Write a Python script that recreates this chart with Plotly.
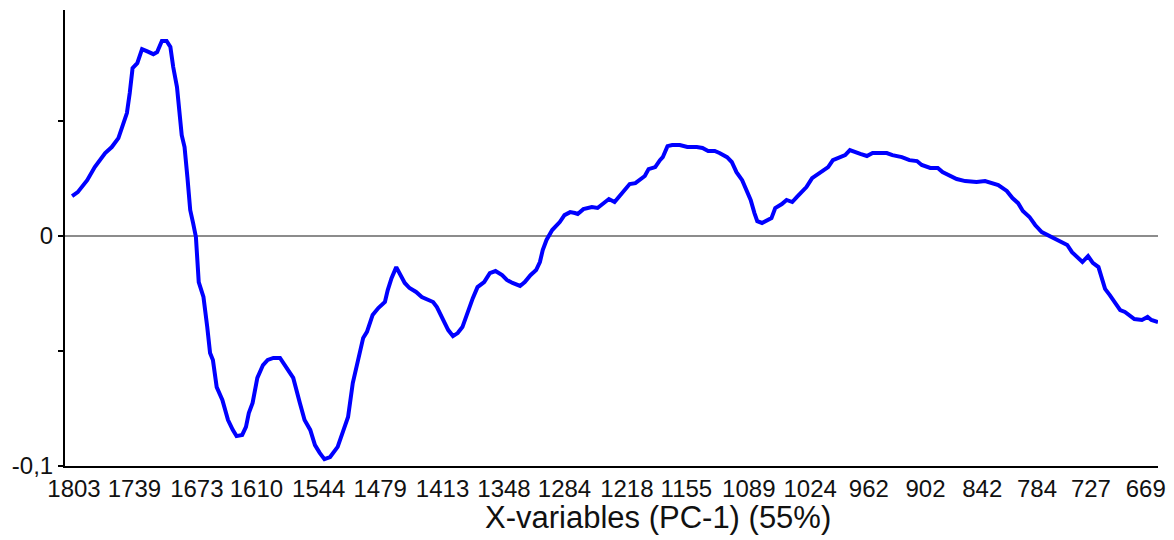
import plotly.graph_objects as go

# PC-1 loadings, wavenumber (cm-1) vs loading
wavenumber = [
    1805, 1799, 1789, 1781, 1770, 1763, 1756, 1752, 1747, 1744, 1741, 1736, 1731, 1726,
    1719, 1715, 1710, 1705, 1701, 1698, 1694, 1689, 1686, 1683, 1680, 1677, 1674,
    1671, 1666, 1662, 1659, 1656, 1652, 1646, 1640, 1635, 1631, 1625, 1621, 1618,
    1614, 1609, 1603, 1598, 1592, 1585, 1580, 1576, 1571, 1564,
    1559, 1553, 1548, 1543, 1538, 1532, 1524, 1516, 1513, 1508, 1503, 1497, 1493,
    1487, 1481, 1474, 1471, 1467, 1462, 1458, 1453, 1448, 1441, 1435, 1430, 1423,
    1419, 1413, 1407, 1402, 1397, 1392, 1386, 1381, 1376, 1369, 1363, 1357, 1350,
    1345, 1339, 1331, 1326, 1320, 1314, 1310, 1307, 1303, 1297,
    1289, 1284, 1278, 1273, 1270, 1264, 1259, 1255, 1249, 1243, 1237, 1231, 1222,
    1215, 1209, 1199, 1195, 1188, 1183, 1180, 1175, 1170, 1162, 1154, 1144, 1138,
    1132, 1125, 1120, 1112, 1107, 1102, 1096, 1091, 1087, 1083, 1080, 1075, 1070,
    1065, 1061, 1054, 1049, 1043, 1038, 1033, 1028, 1022, 1017, 1011, 1005, 1000,
    995, 987, 982, 977, 971,
    964, 958, 943, 937, 927, 919, 911, 906, 897, 889, 884, 876, 869, 860, 848, 839,
    832, 825, 816, 810, 804, 799, 792, 786, 779, 773, 763, 752, 747, 741, 736, 730,
    725, 719, 715, 712, 707, 702, 696, 691, 686, 681, 673, 667, 663, 656,
]
loading = [
    0.0174, 0.0191, 0.0243, 0.0300, 0.0361, 0.0387, 0.0426, 0.0470, 0.0535, 0.0622,
    0.0730, 0.0752, 0.0813, 0.0804, 0.0791, 0.0800, 0.0848, 0.0848, 0.0822, 0.0735,
    0.0648, 0.0439, 0.0387, 0.0257, 0.0113, 0.0057, -0.0004,
    -0.0200, -0.0265, -0.0396, -0.0509, -0.0539, -0.0657, -0.0713, -0.0800, -0.0843,
    -0.0870, -0.0865, -0.0830, -0.0770, -0.0726, -0.0617, -0.0561, -0.0539, -0.0530,
    -0.0530, -0.0561, -0.0591, -0.0617, -0.0726,
    -0.0800, -0.0843, -0.0909, -0.0943, -0.0970, -0.0961, -0.0917, -0.0822, -0.0787,
    -0.0639, -0.0552, -0.0443, -0.0417, -0.0343, -0.0313, -0.0287, -0.0235, -0.0183,
    -0.0135, -0.0170, -0.0204, -0.0226, -0.0243, -0.0265, -0.0274, -0.0287, -0.0309,
    -0.0357, -0.0409, -0.0435, -0.0422, -0.0396, -0.0322, -0.0270, -0.0222, -0.0200,
    -0.0161, -0.0152, -0.0170, -0.0191, -0.0204, -0.0217, -0.0200, -0.0170, -0.0148,
    -0.0113, -0.0061, -0.0017, 0.0026,
    0.0061, 0.0091, 0.0104, 0.0100, 0.0096, 0.0117, 0.0122, 0.0126, 0.0122, 0.0143,
    0.0161, 0.0148, 0.0191, 0.0226, 0.0230, 0.0261, 0.0291, 0.0300, 0.0330, 0.0343,
    0.0391, 0.0396, 0.0396, 0.0387, 0.0387, 0.0383, 0.0370, 0.0370, 0.0361, 0.0343,
    0.0322, 0.0278, 0.0243, 0.0200, 0.0157, 0.0100, 0.0065, 0.0057, 0.0070, 0.0078,
    0.0122, 0.0139, 0.0157, 0.0148, 0.0170, 0.0191, 0.0213, 0.0252, 0.0265, 0.0283,
    0.0300, 0.0330, 0.0339, 0.0352, 0.0374, 0.0365, 0.0357,
    0.0348, 0.0361, 0.0361, 0.0352, 0.0343, 0.0330, 0.0326, 0.0309, 0.0296, 0.0296,
    0.0278, 0.0261, 0.0248, 0.0239, 0.0235, 0.0239, 0.0230, 0.0222, 0.0196, 0.0165,
    0.0143, 0.0109, 0.0083, 0.0048, 0.0017, 0.0004, -0.0013, -0.0039, -0.0070,
    -0.0091, -0.0113, -0.0087, -0.0117, -0.0135, -0.0191, -0.0230, -0.0257, -0.0287,
    -0.0322, -0.0330, -0.0343, -0.0361, -0.0365, -0.0352, -0.0365, -0.0374,
]

x_ticks = [1803, 1739, 1673, 1610, 1544, 1479, 1413, 1348, 1284, 1218,
           1155, 1089, 1024, 962, 902, 842, 784, 727, 669]
y_ticks = [-0.1, -0.05, 0, 0.05]
y_ticktext = ["-0,1", "", "0", ""]

FONT = "Liberation Sans, Arial, sans-serif"

fig = go.Figure()
fig.add_trace(go.Scatter(
    x=wavenumber, y=loading, mode="lines",
    line=dict(color="#0000ff", width=4),
    hoverinfo="skip", showlegend=False,
))

# the page body has an 8px margin, so the figure is sized to fit the window
fig.update_layout(
    width=1166, height=532,
    margin=dict(l=57, r=16, t=2, b=74),
    paper_bgcolor="white", plot_bgcolor="white",
    font=dict(family=FONT, size=24, color="#111111"),
    showlegend=False,
)
fig.update_xaxes(
    range=[1812.5, 656], showgrid=False, zeroline=False, automargin=False,
    showline=True, linecolor="black", linewidth=2,
    tickvals=x_ticks, ticktext=[str(t) for t in x_ticks],
    ticks="", tickfont=dict(size=24),
)
fig.update_yaxes(
    range=[-0.1, 0.0983], showgrid=False, automargin=False,
    zeroline=True, zerolinecolor="#8c8c8c", zerolinewidth=2,
    showline=True, linecolor="black", linewidth=2,
    tickvals=y_ticks, ticktext=y_ticktext,
    ticks="outside", ticklen=5, tickwidth=1.5, tickcolor="black",
    tickfont=dict(size=24),
)

fig.add_annotation(
    text="X-variables (PC-1) (55%)",
    xref="paper", yref="paper", x=0.5425, y=-0.112,
    xanchor="center", yanchor="middle", showarrow=False,
    font=dict(family=FONT, size=31, color="#111111"),
)

fig.write_html("out.html")
